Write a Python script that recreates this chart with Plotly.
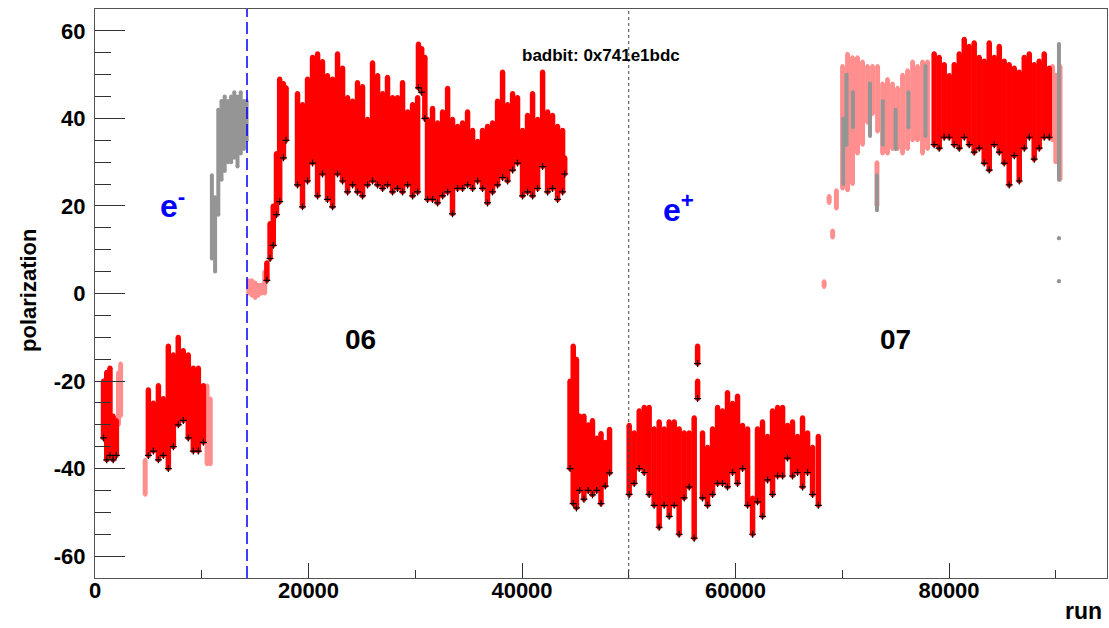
import plotly.graph_objects as go

# ---------------- data ----------------
# red points: run, lower / upper edge of the polarization band
red_run = [800, 1100, 1400, 1700, 2000,
           5000, 5470, 5940, 6400, 6870, 7340, 7800, 8270, 8740, 9210, 9680, 10150,
           16100, 16400, 16700, 17000, 17300, 17650, 17900,
           18970, 19440, 19910, 20380, 20850, 21310, 21780, 22250, 22720, 23190,
           23660, 24130, 24590, 25060, 25530, 26000, 26470, 26940, 27400, 27870,
           28340, 28810, 29280, 29750, 30220, 30300, 30600, 30900, 31150, 31620,
           32090, 32560, 33030, 33490, 33960, 34430, 34900, 35370, 35840, 36300,
           36770, 37240, 37710, 38180, 38650, 39120, 39580, 40050, 40520, 40990,
           41460, 41930, 42400, 42860, 43330, 43800, 44000,
           44500, 44800, 45100, 45400, 45800, 46200, 46600, 47000, 47400, 47800, 48200,
           50040, 50510, 50980, 51450, 51910, 52380, 52850, 53320, 53790, 54260,
           54720, 55190, 55660, 56130, 56450, 56450, 56910, 57380, 57850, 58320,
           58780, 59250, 59720, 60190, 60660, 61130, 61600, 62060, 62530, 63000,
           63470, 63940, 64410, 64870, 65340, 65810, 66280, 66750, 67220, 67760,
           78610, 79080, 79550, 80020, 80490, 80960, 81430, 81890, 82360, 82830,
           83300, 83770, 84240, 84710, 85170, 85640, 86110, 86580, 87050, 87520,
           87980, 88450, 88920, 89390]
red_lo = [-33, -38, -37, -38, -37,
          -37, -36, -38, -37, -40, -35, -30, -29, -33, -36, -36, -34,
          3, 8, 11, 18, 21, 31, 35,
          24.8, 19.8, 25.7, 29.8, 22.3, 27.3, 21.5, 19.8, 27.3, 25.7,
          23.2, 24.8, 23.2, 22.3, 24.8, 25.7, 24.8, 24.0, 24.8, 23.2,
          24.0, 23.2, 24.8, 22.3, 23.2, 47, 46, 40, 21.5, 21.5,
          20.7, 22.3, 23.2, 18.2, 24.0, 24.0, 24.8, 24.0, 25.7, 24.0,
          20.7, 23.2, 24.8, 26.5, 25.7, 28.2, 29.8, 22.3, 23.2, 22.3,
          24.0, 29.0, 23.2, 24.0, 21.5, 23.2, 27.3,
          -40, -48, -49, -45, -47, -45, -46, -45, -48, -44, -41,
          -45.9, -43.4, -40.0, -40.9, -45.9, -48.4, -53.4, -48.4, -50.9, -48.4,
          -55.0, -46.7, -44.2, -55.9, -24, -16, -46.7, -48.4, -45.9, -43.4,
          -43.4, -44.2, -40.9, -43.4, -40.0, -48.4, -55.0, -47.6, -50.9, -42.6,
          -45.9, -41.7, -41.7, -37.6, -41.7, -40.9, -44.2, -40.9, -45.9, -48.4,
          34, 33.2, 35.7, 35.7, 34, 33.2, 35.7, 34, 32.3, 33.2,
          29.8, 28.2, 34, 32.3, 29.8, 24.8, 31.5, 25.7, 33.2, 35.7,
          30.7, 33.2, 35.7, 35.7]
red_hi = [-20, -18, -17, -28, -29,
          -22, -25, -21, -24, -12, -14, -10, -13, -14, -17, -17, -21,
          7, 16, 20, 32, 49, 48, 47,
          45.7, 43.2, 49.0, 54.0, 54.8, 53.0, 49.8, 49.0, 54.8, 51.5,
          44.8, 44.0, 48.2, 47.3, 39.8, 52.7, 49.8, 45.7, 49.4, 44.8,
          44.8, 48.2, 41.5, 43.2, 44.8, 57, 56, 54, 39.8, 42.3,
          39.0, 41.5, 46.9, 39.8, 38.2, 39.0, 41.5, 37.3, 34.8, 37.3,
          38.2, 39.0, 44.0, 50.6, 43.2, 45.7, 44.8, 37.3, 40.7, 45.7,
          39.8, 50.6, 41.5, 40.7, 38.2, 37.3, 31,
          -20, -12, -15, -28, -28, -30, -29, -33, -32, -34, -31,
          -30.1, -31.8, -26.8, -26.0, -26.0, -30.9, -29.3, -30.9, -29.3, -29.3,
          -30.9, -31.8, -31.8, -28.4, -20, -12, -31.8, -35.1, -30.9, -26.0,
          -26.8, -22.6, -25.1, -23.4, -30.1, -30.9, -46.7, -30.9, -29.3, -32.6,
          -26.8, -26.0, -26.0, -30.1, -29.3, -32.6, -28.4, -31.8, -35.1, -32.6,
          54.8, 54, 52.3, 49.8, 52.3, 54.8, 58.1, 56.5, 57.3, 54,
          53.1, 57.3, 54, 56.5, 53.1, 52.3, 51.5, 50.6, 54, 54.8,
          52.3, 53.1, 54.8, 51.5]

# light red (salmon) points
salmon_run = [2200, 2400, 4700, 10500, 10800,
              14400, 14700, 15000, 15300, 15600, 15900,
              68300, 68770, 69100, 69450,
              70030, 70500, 70960, 71430, 71900, 72370, 72840, 73250, 73310,
              73780, 74240, 74710, 75180, 75650, 76120, 76590, 77050, 77520, 77990,
              89700, 90000, 90400]
salmon_lo = [-30, -28, -46, -39, -39,
             0, -0.5, -1, -0.5, 0, 0,
             1.5, 20.7, 12.8, 19.4,
             24, 23.6, 25, 32, 34, 39, 41, 20, 37,
             32, 32, 33, 33, 32, 33, 35, 35, 32, 33,
             35, 30, 26]
salmon_hi = [-18, -16, -38, -21, -24,
             3, 3, 2.5, 2, 2, 5,
             2.8, 22.3, 14.4, 23.6,
             52, 54.8, 54, 54, 53, 52, 52, 30, 52,
             48, 49, 48, 47, 50, 51, 53, 52, 53, 53,
             52, 50, 52]

# grey points
grey_run = [10950, 11250, 11550, 11850, 12150, 12450, 12750, 13050, 13350, 13650, 13950, 14200,
            70100, 70400, 71000, 72600, 73250, 73800, 75000, 76200, 77800,
            90300, 90300, 90300]
grey_lo = [8, 5, 18, 26, 28, 30, 30, 31, 29, 32, 33, 35,
           25, 34, 38, 36, 19, 34, 33, 38, 36,
           26, 12.6, 2.8]
grey_hi = [27, 22, 42, 44, 45, 44, 45, 46, 45, 46, 44, 44,
           40, 50, 46, 48, 27, 44, 42, 46, 52,
           57, 12.6, 2.8]

x_ticks = [0, 20000, 40000, 60000, 80000]
x_tick_text = ["0", "20000", "40000", "60000", "80000"]
y_ticks = [-60, -40, -20, 0, 20, 40, 60]
y_tick_text = ["-60", "-40", "-20", "0", "20", "40", "60"]

electron_boundary = 14240
positron_boundary = 50000


def segments(xs, lo, hi):
    X, Y = [], []
    for x, a, b in zip(xs, lo, hi):
        X += [x, x, None]
        Y += [a, b, None]
    return X, Y


fig = go.Figure()

for xs, lo, hi, col, w, ms in [(salmon_run, salmon_lo, salmon_hi, "#ff8f8f", 5, 4),
                               (grey_run, grey_lo, grey_hi, "#959595", 4, 4),
                               (red_run, red_lo, red_hi, "#ff0000", 5.5, 5)]:
    X, Y = segments(xs, lo, hi)
    fig.add_trace(go.Scatter(x=X, y=Y, mode="lines+markers",
                             line=dict(color=col, width=w),
                             marker=dict(color=col, size=ms),
                             hoverinfo="skip", showlegend=False))

fig.add_trace(go.Scatter(x=red_run, y=red_lo, mode="markers",
                         marker=dict(symbol="cross-thin", size=5,
                                     line=dict(color="black", width=1.2)),
                         hoverinfo="skip", showlegend=False))

fig.add_shape(type="line", xref="x", yref="paper", x0=electron_boundary, x1=electron_boundary,
              y0=0, y1=1, line=dict(color="#0000ff", width=1.5, dash="12px,5px"))
fig.add_shape(type="line", xref="x", yref="paper", x0=positron_boundary, x1=positron_boundary,
              y0=0, y1=1, line=dict(color="#444444", width=1, dash="dot"))

FONT = "Liberation Sans, Arial, sans-serif"
big = dict(family=FONT, size=28, color="black", weight="bold")
blue = dict(family=FONT, size=32, color="#0000ff", weight="bold")

fig.add_annotation(x=7213, y=20.5, xref="x", yref="y", text="e<sup>-</sup>",
                   showarrow=False, font=blue)
fig.add_annotation(x=54614, y=19.5, xref="x", yref="y", text="e<sup>+</sup>",
                   showarrow=False, font=blue)
fig.add_annotation(x=24824, y=-10.6, xref="x", yref="y", text="06",
                   showarrow=False, font=big)
fig.add_annotation(x=74941, y=-10.6, xref="x", yref="y", text="07",
                   showarrow=False, font=big)
fig.add_annotation(x=(601 - 95) / 1012, y=(578 - 44) / 569, xref="paper", yref="paper",
                   text="badbit: 0x741e1bdc", showarrow=False,
                   font=dict(family=FONT, size=17, color="black", weight="bold"))
fig.add_annotation(x=(1104 - 95) / 1012, y=(578 - 626) / 569, xref="paper", yref="paper",
                   text="run", showarrow=False, xanchor="right", yanchor="bottom",
                   font=dict(family=FONT, size=23, color="black", weight="bold"))
fig.add_annotation(x=(28 - 95) / 1012, y=(578 - 291) / 569, xref="paper", yref="paper",
                   text="polarization", showarrow=False, textangle=-90,
                   xanchor="center", yanchor="middle",
                   font=dict(family=FONT, size=22, color="black", weight="bold"))

tickfont = dict(family=FONT, size=22, color="black", weight="bold")
fig.update_xaxes(range=[0, 94800], tickvals=x_ticks, ticktext=x_tick_text,
                 ticks="inside", ticklen=15, tickwidth=1, tickcolor="#333333",
                 minor=dict(ticks="inside", ticklen=8, tick0=0, dtick=10000,
                            tickcolor="#333333", showgrid=False),
                 showline=True, linecolor="#555555", linewidth=1, mirror=True,
                 showgrid=False, zeroline=False, tickfont=tickfont,
                 ticklabelstandoff=-7)
fig.update_yaxes(range=[-65, 65], tickvals=y_ticks, ticktext=y_tick_text,
                 ticks="inside", ticklen=30, tickwidth=1, tickcolor="#333333",
                 minor=dict(ticks="inside", ticklen=16, tick0=0, dtick=5,
                            tickcolor="#333333", showgrid=False),
                 showline=True, linecolor="#555555", linewidth=1, mirror=True,
                 showgrid=False, zeroline=False, tickfont=tickfont,
                 ticklabelstandoff=4)

fig.update_layout(width=1109, height=628,
                  margin=dict(l=95, r=2, t=9, b=50),
                  paper_bgcolor="white", plot_bgcolor="white",
                  showlegend=False)

fig.write_html("out.html")
